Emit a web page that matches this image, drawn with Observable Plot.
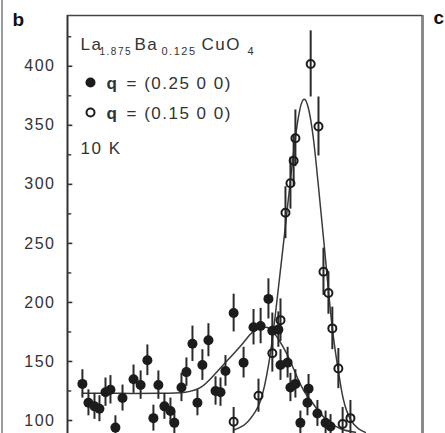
<!DOCTYPE html>
<html><head><meta charset="utf-8">
<script src="https://cdn.jsdelivr.net/npm/d3@7"></script>
<script src="https://cdn.jsdelivr.net/npm/@observablehq/plot@0.6"></script>
<style>
body{margin:0;background:#fff;}
#wrap{position:relative;width:445px;height:433px;overflow:hidden;}
#edge{position:absolute;left:1px;top:0;width:2px;height:433px;background:#9a9a9a;}
</style></head><body><div id="wrap"><div id="edge"></div></div>
<script>
// q = (0.25 0 0), filled circles
const energyA = [524.42,524.59,524.76,524.90,525.07,525.21,525.35,525.55,525.86,526.06,526.25,526.42,526.56,526.73,526.90,527.01,527.21,527.35,527.52,527.66,527.80,527.97,528.17,528.31,528.45,528.68,528.96,529.24,529.44,529.66,529.77,529.94,530.00,530.20,530.28,530.42,530.56,530.76,530.79,531.04,531.27,531.41];
const countsA = [131,115,112,110,124,126,94,119,135,130,151,102,130,112,108,98,128,141,165,115,147,168,125,124,142,191,149,179,180,203,176,177,147,149,128,131,98,115,127,106,98,95];
const errorA  = [12,11,11,11,12,12,10,11,12,12,13,11,12,11,11,10,12,12,15,11,13,14,12,12,13,16,13,15,15,17,15,15,13,13,12,12,10,11,12,11,10,10];
// q = (0.15 0 0), open circles
const energyB = [528.68,529.38,529.77,530.00,530.14,530.28,530.37,530.42,530.85,531.07,531.21,531.35,531.46,531.63,531.75,531.97];
const countsB = [99,121,157,185,276,301,320,339,402,349,226,208,178,144,97,102];
const errorB  = [12,14,16,18,22,22,22,24,28,25,20,18,18,17,14,15];
// fit curves
const fitEnergyA = [524.42,525.49,526.62,527.32,527.75,528.11,528.54,528.93,529.15,529.38,529.58,529.77,530.08,530.28,530.48,530.68,530.85,531.07,531.32,531.69,532.11];
const fitCountsA = [123,123,123,124,128,138,152,165,173,178,179,176,162,150,136,124,117,108,100,93,90];
const fitEnergyB = [528.68,529.01,529.30,529.49,529.72,529.94,530.14,530.34,530.51,530.65,530.79,530.93,531.07,531.27,531.46,531.63,531.77,531.97,532.20,532.39];
const fitCountsB = [92,97,108,122,158,212,265,320,358,372,364,338,298,236,178,142,118,101,93,90];
// axis ticks
const majorTicks = [100,150,200,250,300,350,400];
const minorTicks = [125,175,225,275,325,375,425];
const xDomain = [524, 534];
const yDomain = [89, 443];

const A = energyA.map((e,i)=>({e, c: countsA[i], s: errorA[i]}));
const B = energyB.map((e,i)=>({e, c: countsB[i], s: errorB[i]}));
const FA = fitEnergyA.map((e,i)=>({e, c: fitCountsA[i]}));
const FB = fitEnergyB.map((e,i)=>({e, c: fitCountsB[i]}));

const L = 67, T = 15;
function txt(s, x, base, o = {}) {
  return Plot.text([s], {frameAnchor: "top-left", dx: x - L, dy: base - T, text: d => d,
    textAnchor: "start", lineAnchor: "bottom", fontSize: o.size || 16, fontWeight: o.weight || "normal",
    fill: o.fill || "#333"});
}
const ink = "#1c1c1c";
const plot = Plot.plot({
  width: 445, height: 433,
  marginLeft: L, marginRight: 23, marginTop: T, marginBottom: 0,
  x: {domain: xDomain, axis: null},
  y: {domain: yDomain, label: null, axis: null},
  style: {fontFamily: "'Liberation Sans', Arial, sans-serif", letterSpacing: "1.5px", background: "#fff", overflow: "visible"},
  marks: [
    Plot.axisY(majorTicks, {tickSize: 0, tickPadding: 12, fontSize: 16, color: "#333", label: null}),
    // inward ticks
    Plot.ruleY(majorTicks, {y: d => d, x1: xDomain[0], x2: xDomain[0] + 0.15, stroke: "#333", strokeWidth: 1.6}),
    Plot.ruleY(minorTicks, {y: d => d, x1: xDomain[0], x2: xDomain[0] + 0.12, stroke: "#333", strokeWidth: 1.4}),
    Plot.ruleX([xDomain[0]], {stroke: "#333", strokeWidth: 2}),
    Plot.ruleX([xDomain[1]], {stroke: "#8a8a8a", strokeWidth: 3}),
    Plot.ruleY([yDomain[1]], {stroke: "#444", strokeWidth: 1.6}),
    Plot.line(FA, {x: "e", y: "c", curve: "natural", stroke: "#3a3a3a", strokeWidth: 1.5, clip: true}),
    Plot.line(FB, {x: "e", y: "c", curve: "natural", stroke: "#3a3a3a", strokeWidth: 1.5, clip: true}),
    Plot.ruleX(A, {x: "e", y1: d => d.c - d.s, y2: d => d.c + d.s, stroke: "#2a2a2a", strokeWidth: 2, clip: true}),
    Plot.ruleX(B, {x: "e", y1: d => d.c - d.s, y2: d => d.c + d.s, stroke: "#2a2a2a", strokeWidth: 2, clip: true}),
    Plot.dot(A, {x: "e", y: "c", r: 5, fill: ink, stroke: "none", clip: true}),
    Plot.dot(B, {x: "e", y: "c", r: 4, fill: "none", stroke: ink, strokeWidth: 2, clip: true}),
    // legend
    txt("La", 80, 49, {size: 17}),
    txt("1.875", 99, 54, {size: 10}),
    txt("Ba", 134, 49, {size: 17}),
    txt("0.125", 161, 54, {size: 11}),
    txt("CuO", 201, 49, {size: 17}),
    txt("4", 247, 54, {size: 11}),
    Plot.dot([0], {frameAnchor: "top-left", dx: 90 - L, dy: 82 - T, r: 5, fill: ink}),
    txt("q", 106, 88, {weight: "bold", size: 17}),
    txt("= (0.25 0 0)", 126, 88, {size: 17}),
    Plot.dot([0], {frameAnchor: "top-left", dx: 90 - L, dy: 112 - T, r: 4, fill: "none", stroke: ink, strokeWidth: 2}),
    txt("q", 106, 118, {weight: "bold", size: 17}),
    txt("= (0.15 0 0)", 126, 118, {size: 17}),
    txt("10 K", 80, 153, {size: 17}),
    // panel letters
    txt("b", 12, 25, {weight: "bold", size: 19, fill: "#111"}),
    txt("c", 433, 23, {weight: "bold", size: 19, fill: "#111"})
  ]
});
document.getElementById("wrap").appendChild(plot);
</script>
</body></html>
